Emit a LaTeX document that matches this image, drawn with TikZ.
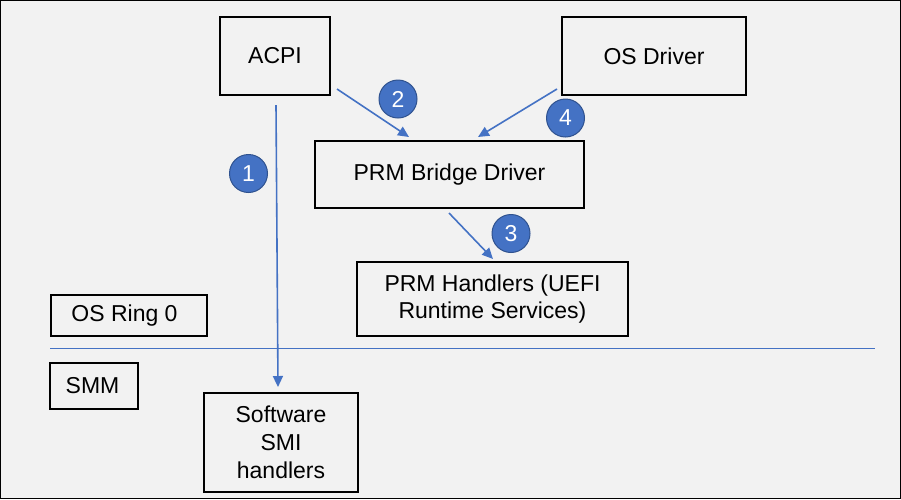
\documentclass[tikz,border=0pt]{standalone}
\usepackage{fontspec}
\setmainfont{Liberation Sans}
\usetikzlibrary{arrows.meta}
\definecolor{bg}{HTML}{F2F2F2}
\definecolor{accent}{HTML}{4472C4}
\definecolor{accentdark}{HTML}{2F528F}
\begin{document}
\begin{tikzpicture}[x=1pt,y=-1pt,
  box/.style={draw=black, line width=2pt, fill=bg, inner sep=0pt, align=center,
    font=\fontsize{23}{27}\selectfont},
  flow/.style={draw=accent, line width=1.6pt, -{Triangle[length=11pt,width=10pt]}},
  badge/.style={circle, fill=accent, draw=accentdark, line width=1pt, minimum size=38pt,
    inner sep=0pt, text=white, font=\fontsize{23}{27}\selectfont}]
\useasboundingbox (0,0) rectangle (901,499);
\draw[fill=bg, draw=black, line width=1.4pt] (0.7,0.7) rectangle (900.3,498.3);
% boxes
\node[box, minimum width=110pt, minimum height=78pt] (acpi) at (275,56) {ACPI};
\node[box, minimum width=184pt, minimum height=78pt] (osdrv) at (654,56) {OS Driver};
\node[box, minimum width=269pt, minimum height=67pt] (bridge) at (449.5,174.5) {PRM Bridge Driver};
\node[box, minimum width=271pt, minimum height=74pt] (handlers) at (492.5,299) {PRM Handlers (UEFI\\Runtime Services)};
\node[box, minimum width=156pt, minimum height=41pt] (ring0) at (129,315.5) {\hspace*{-9pt}OS Ring 0};
\node[box, minimum width=88pt, minimum height=46pt] (smm) at (94,386) {\hspace*{-3pt}SMM};
\node[box, minimum width=154pt, minimum height=99pt, font=\fontsize{23}{28}\selectfont] (smi) at (281,442.5) {Software\\SMI\\handlers};
% divider
\coordinate (divL) at (50,348.5);
\coordinate (divR) at (875,348.5);
\draw[accent, line width=1.6pt] (divL) -- (divR);
% connectors
\coordinate (a1s) at (276,105);
\coordinate (a1e) at (278,387);
\coordinate (a2s) at (337,89);
\coordinate (a2e) at (409,137);
\coordinate (a4s) at (557,89);
\coordinate (a4e) at (478,137);
\coordinate (a3s) at (449,213);
\coordinate (a3e) at (493,259);
\draw[flow] (a1s) -- (a1e);
\draw[flow] (a2s) -- (a2e);
\draw[flow] (a4s) -- (a4e);
\draw[flow] (a3s) -- (a3e);
% badges
\node[badge] (b1) at (248.5,173.5) {1};
\node[badge] (b2) at (398,99) {2};
\node[badge] (b3) at (511,233.5) {3};
\node[badge] (b4) at (565.5,118) {4};
\end{tikzpicture}
\end{document}
